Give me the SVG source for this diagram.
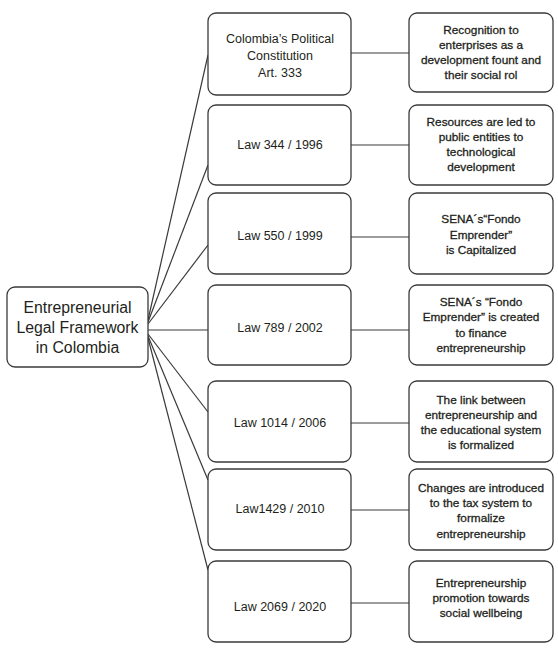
<svg xmlns="http://www.w3.org/2000/svg" width="558" height="650" viewBox="0 0 558 650">
<style>
.box{fill:#fff;stroke:#3a3a3a;stroke-width:1.3}
.con{fill:none;stroke:#3a3a3a;stroke-width:1.2}
text{font-family:"Liberation Sans",Arial,sans-serif;fill:#231f20;text-anchor:middle}
.m{font-size:12.5px}
.r{font-size:11.8px;stroke:#231f20;stroke-width:0.3}
.l{font-size:15.8px}
</style>
<rect width="558" height="650" fill="#fff"/>
<g id="connectors">
<path class="con" d="M148,320 L208,55"/>
<path class="con" d="M148,322 L208,165"/>
<path class="con" d="M148,324 L208,245"/>
<path class="con" d="M148,330 L208,330"/>
<path class="con" d="M148,334 L208,412"/>
<path class="con" d="M148,336 L208,480"/>
<path class="con" d="M148,338 L208,570"/>
<path class="con" d="M351,53 L409,53"/>
<path class="con" d="M351,145 L409,145"/>
<path class="con" d="M351,237 L409,237"/>
<path class="con" d="M351,330 L409,330"/>
<path class="con" d="M351,423 L409,423"/>
<path class="con" d="M351,510 L409,510"/>
<path class="con" d="M351,603 L409,603"/>
</g>
<g id="root">
<rect class="box" x="7" y="287" width="141" height="80" rx="8"/>
<text class="l" x="77.5" y="313">Entrepreneurial</text>
<text class="l" x="77.5" y="333">Legal Framework</text>
<text class="l" x="77.5" y="353">in Colombia</text>
</g>
<g id="law1">
<rect class="box" x="208" y="13" width="143" height="82" rx="8"/>
<text class="m" x="280" y="43">Colombia’s Political</text>
<text class="m" x="280" y="60">Constitution</text>
<text class="m" x="280" y="77">Art. 333</text>
</g>
<g id="law2">
<rect class="box" x="208" y="105" width="143" height="80" rx="8"/>
<text class="m" x="280" y="149">Law 344 / 1996</text>
</g>
<g id="law3">
<rect class="box" x="208" y="193" width="143" height="81" rx="8"/>
<text class="m" x="280" y="240">Law 550 / 1999</text>
</g>
<g id="law4">
<rect class="box" x="208" y="285" width="143" height="80" rx="8"/>
<text class="m" x="280" y="332">Law 789 / 2002</text>
</g>
<g id="law5">
<rect class="box" x="208" y="381" width="143" height="81" rx="8"/>
<text class="m" x="280" y="427">Law 1014 / 2006</text>
</g>
<g id="law6">
<rect class="box" x="208" y="469" width="143" height="81" rx="8"/>
<text class="m" x="280" y="513">Law1429 / 2010</text>
</g>
<g id="law7">
<rect class="box" x="208" y="561" width="143" height="81" rx="8"/>
<text class="m" x="280" y="611">Law 2069 / 2020</text>
</g>
<g id="desc1">
<rect class="box" x="409" y="13" width="144" height="79" rx="8"/>
<text class="r" x="481" y="34">Recognition to</text>
<text class="r" x="481" y="49">enterprises as a</text>
<text class="r" x="481" y="64">development fount and</text>
<text class="r" x="481" y="79">their social rol</text>
</g>
<g id="desc2">
<rect class="box" x="409" y="105" width="144" height="80" rx="8"/>
<text class="r" x="481" y="126">Resources are led to</text>
<text class="r" x="481" y="141">public entities to</text>
<text class="r" x="481" y="156">technological</text>
<text class="r" x="481" y="171">development</text>
</g>
<g id="desc3">
<rect class="box" x="409" y="193" width="144" height="81" rx="8"/>
<text class="r" x="481" y="223">SENA´s“Fondo</text>
<text class="r" x="481" y="239">Emprender”</text>
<text class="r" x="481" y="254">is Capitalized</text>
</g>
<g id="desc4">
<rect class="box" x="409" y="285" width="144" height="80" rx="8"/>
<text class="r" x="481" y="306">SENA´s  “Fondo</text>
<text class="r" x="481" y="321">Emprender” is created</text>
<text class="r" x="481" y="337">to finance</text>
<text class="r" x="481" y="352">entrepreneurship</text>
</g>
<g id="desc5">
<rect class="box" x="409" y="381" width="144" height="81" rx="8"/>
<text class="r" x="481" y="404">The link between</text>
<text class="r" x="481" y="419">entrepreneurship and</text>
<text class="r" x="481" y="434">the educational system</text>
<text class="r" x="481" y="449">is formalized</text>
</g>
<g id="desc6">
<rect class="box" x="409" y="469" width="144" height="81" rx="8"/>
<text class="r" x="481" y="492">Changes are introduced</text>
<text class="r" x="481" y="507">to the tax system to</text>
<text class="r" x="481" y="522">formalize</text>
<text class="r" x="481" y="538">entrepreneurship</text>
</g>
<g id="desc7">
<rect class="box" x="409" y="561" width="144" height="81" rx="8"/>
<text class="r" x="481" y="587">Entrepreneurship</text>
<text class="r" x="481" y="602">promotion towards</text>
<text class="r" x="481" y="617">social wellbeing</text>
</g>
</svg>
